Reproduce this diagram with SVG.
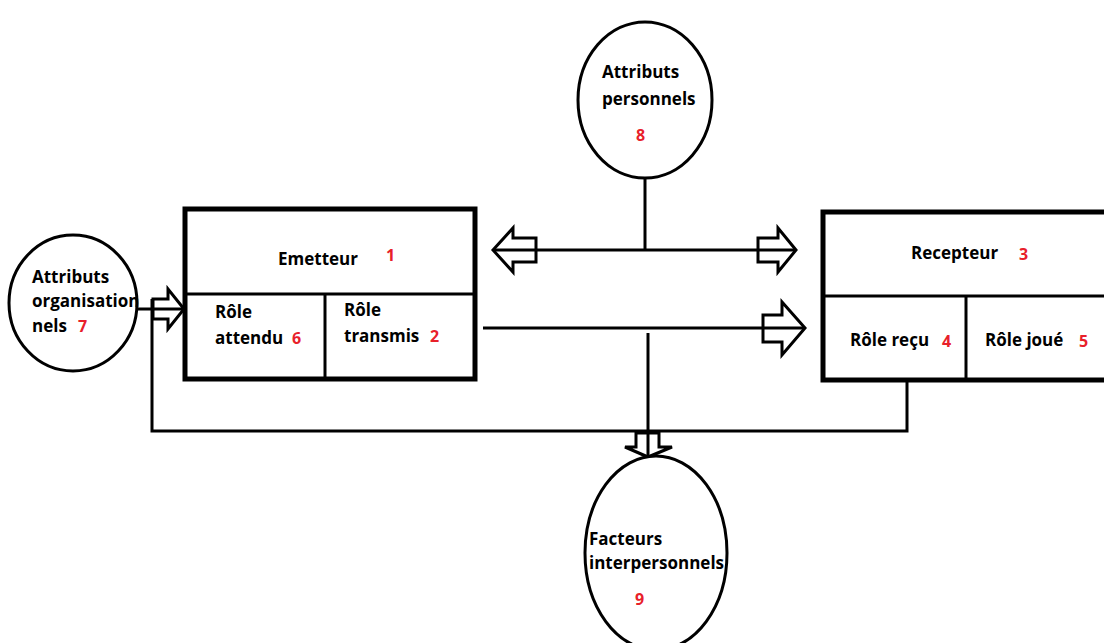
<svg xmlns="http://www.w3.org/2000/svg" width="1104" height="643" viewBox="0 0 1104 643">
<style>
.box{fill:#fff;stroke:#000;stroke-width:5}
.div{stroke:#000;stroke-width:3;fill:none}
.ell{fill:#fff;stroke:#000;stroke-width:3}
.ln{stroke:#000;stroke-width:3;fill:none}
.ar{stroke:#000;stroke-width:3;fill:none;stroke-linejoin:miter}
.t{font-family:"Open Sans","Liberation Sans",sans-serif;font-weight:bold;font-size:17px;fill:#000}
.n{font-family:"Open Sans","Liberation Sans",sans-serif;font-weight:bold;font-size:16px;fill:#e8202a}
</style>
<rect width="1104" height="643" fill="#fff"/>
<g id="connectors">
<line class="ln" x1="645" y1="178" x2="645" y2="250"/>
<line class="ln" x1="493" y1="250" x2="796" y2="250"/>
<polygon class="ar" points="493,250 513,228 513,238 536,238 536,262 513,262 513,272"/>
<polygon class="ar" points="796,250 778,228 778,238 758,238 758,262 778,262 778,272"/>
<line class="ln" x1="483" y1="328" x2="805" y2="328"/>
<polygon class="ar" points="805,328 782,302 782,315 763,315 763,342 782,342 782,355"/>
<line class="ln" x1="648" y1="333" x2="648" y2="457"/>
<polyline class="ln" points="907,380 907,431 152,431 152,299"/>
<polygon class="ar" points="648,457 625,447 636,447 636,433 659,433 659,447 672,447"/>
<line class="ln" x1="137" y1="309" x2="184" y2="309"/>
<polygon class="ar" points="184,309 168,289 168,299 153,299 153,319 168,319 168,329"/>
</g>
<g id="emetteur">
<rect class="box" x="185" y="209" width="290" height="170"/>
<line class="div" x1="185" y1="294" x2="475" y2="294"/>
<line class="div" x1="325" y1="294" x2="325" y2="379"/>
<text class="t" x="278" y="265">Emetteur</text>
<text class="n" x="386" y="261">1</text>
<text class="t" x="215" y="318">Rôle</text>
<text class="t" x="215" y="344">attendu</text>
<text class="n" x="292" y="344">6</text>
<text class="t" x="344" y="316">Rôle</text>
<text class="t" x="344" y="342">transmis</text>
<text class="n" x="430" y="342">2</text>
</g>
<g id="recepteur">
<rect class="box" x="823" y="212" width="290" height="168"/>
<line class="div" x1="823" y1="296" x2="1104" y2="296"/>
<line class="div" x1="966" y1="296" x2="966" y2="380"/>
<text class="t" x="911" y="259">Recepteur</text>
<text class="n" x="1019" y="260">3</text>
<text class="t" x="850" y="346">Rôle reçu</text>
<text class="n" x="942" y="347">4</text>
<text class="t" x="985" y="346">Rôle joué</text>
<text class="n" x="1079" y="347">5</text>
</g>
<g id="attributs-personnels">
<ellipse class="ell" cx="645" cy="100" rx="67" ry="78"/>
<text class="t" x="602" y="78">Attributs</text>
<text class="t" x="602" y="105">personnels</text>
<text class="n" x="636" y="141">8</text>
</g>
<g id="attributs-organisationnels">
<ellipse class="ell" cx="73" cy="303" rx="64" ry="68"/>
<text class="t" x="32" y="283">Attributs</text>
<text class="t" x="32" y="307">organisation</text>
<text class="t" x="32" y="332">nels</text>
<text class="n" x="78" y="332">7</text>
</g>
<g id="facteurs-interpersonnels">
<ellipse class="ell" cx="656" cy="553" rx="71" ry="97"/>
<text class="t" x="589" y="545">Facteurs</text>
<text class="t" x="589" y="569">interpersonnels</text>
<text class="n" x="635" y="605">9</text>
</g>
</svg>
